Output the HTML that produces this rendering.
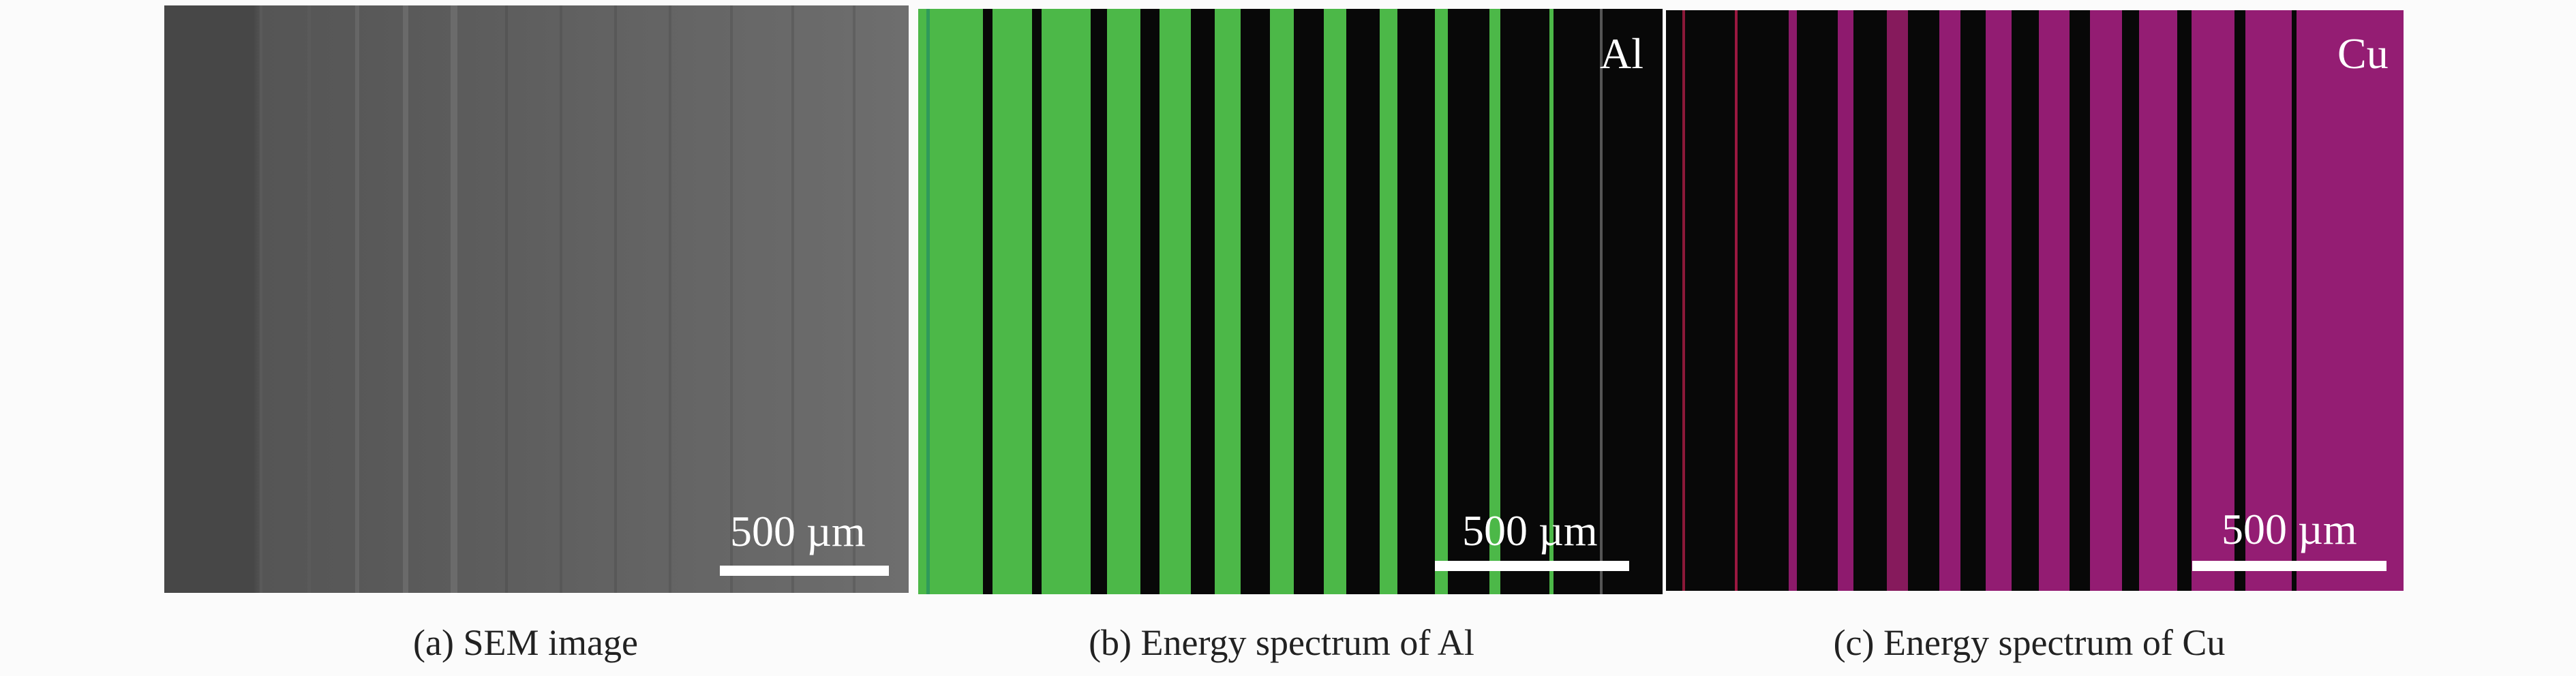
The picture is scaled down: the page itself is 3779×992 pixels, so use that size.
<!DOCTYPE html>
<html><head><meta charset="utf-8"><style>
body{margin:0;width:3779px;height:992px;background:#fbfbfb;position:relative;overflow:hidden;font-family:"Liberation Serif",serif}
.p{position:absolute}
.s{position:absolute;top:0;bottom:0}
.t{position:absolute;color:#fff;font-size:64px;line-height:1;white-space:nowrap}
.bar{position:absolute;background:#fff}
.cap{position:absolute;top:912px;font-size:54px;color:#222;white-space:nowrap;transform:translateX(-50%)}
</style></head><body>
<!-- panel a -->
<div class="p" style="left:241px;top:8px;width:1092px;height:862px;background:linear-gradient(90deg,#474747 0,#474747 12%,#555 13%,#5c5c5c 40%,#656565 70%,#6e6e6e 100%)">
<div class="s" style="left:140px;width:4px;background:#5a5a5a"></div>
<div class="s" style="left:210px;width:5px;background:#5a5a5a"></div>
<div class="s" style="left:280px;width:6px;background:#666"></div>
<div class="s" style="left:350px;width:8px;background:#6a6a6a"></div>
<div class="s" style="left:420px;width:10px;background:#6b6b6b"></div>
<div class="s" style="left:500px;width:4px;background:#555"></div>
<div class="s" style="left:580px;width:4px;background:#575757"></div>
<div class="s" style="left:660px;width:4px;background:#585858"></div>
<div class="s" style="left:740px;width:4px;background:#5a5a5a"></div>
<div class="s" style="left:830px;width:4px;background:#5c5c5c"></div>
<div class="s" style="left:920px;width:4px;background:#5e5e5e"></div>
<div class="s" style="left:1010px;width:4px;background:#606060"></div>
<div class="t" style="left:830px;top:740px">500 µm</div>
<div class="bar" style="left:815px;top:822px;width:248px;height:15px"></div>
</div>
<!-- panel b -->
<div class="p" style="left:1347px;top:13px;width:1092px;height:859px;background:#4cb848;overflow:hidden">
<div class="s" style="left:12px;width:5px;background:#2f9a5a"></div>
<div class="s" style="left:95px;width:14px;background:#080808"></div>
<div class="s" style="left:167px;width:14px;background:#080808"></div>
<div class="s" style="left:253px;width:24px;background:#080808"></div>
<div class="s" style="left:326px;width:28px;background:#080808"></div>
<div class="s" style="left:400px;width:35px;background:#080808"></div>
<div class="s" style="left:473px;width:43px;background:#080808"></div>
<div class="s" style="left:551px;width:44px;background:#080808"></div>
<div class="s" style="left:628px;width:49px;background:#080808"></div>
<div class="s" style="left:703px;width:55px;background:#080808"></div>
<div class="s" style="left:777px;width:61px;background:#080808"></div>
<div class="s" style="left:854px;width:72px;background:#080808"></div>
<div class="s" style="left:932px;width:160px;background:#080808"></div>
<div class="s" style="left:1000px;width:4px;background:#555"></div>
<div class="t" style="left:1000px;top:34px">Al</div>
<div class="t" style="left:798px;top:734px">500 µm</div>
<div class="bar" style="left:758px;top:810px;width:285px;height:15px"></div>
</div>
<!-- panel c -->
<div class="p" style="left:2444px;top:15px;width:1082px;height:852px;background:#080808;overflow:hidden">
<div class="s" style="left:24px;width:4px;background:#8a1838"></div>
<div class="s" style="left:101px;width:4px;background:#9a1840"></div>
<div class="s" style="left:180px;width:12px;background:#8c1a6a"></div>
<div class="s" style="left:252px;width:23px;background:#8e1a6e"></div>
<div class="s" style="left:324px;width:31px;background:#861a5c"></div>
<div class="s" style="left:401px;width:31px;background:#921c72"></div>
<div class="s" style="left:469px;width:38px;background:#921c72"></div>
<div class="s" style="left:547px;width:45px;background:#931c72"></div>
<div class="s" style="left:622px;width:47px;background:#931c72"></div>
<div class="s" style="left:694px;width:56px;background:#941d73"></div>
<div class="s" style="left:771px;width:63px;background:#941d73"></div>
<div class="s" style="left:850px;width:68px;background:#941d73"></div>
<div class="s" style="left:925px;width:157px;background:#941d73"></div>
<div class="t" style="left:985px;top:32px">Cu</div>
<div class="t" style="left:815px;top:730px">500 µm</div>
<div class="bar" style="left:772px;top:808px;width:285px;height:15px"></div>
</div>
<div class="cap" style="left:771px">(a) SEM image</div>
<div class="cap" style="left:1880px">(b) Energy spectrum of Al</div>
<div class="cap" style="left:2977px">(c) Energy spectrum of Cu</div>
</body></html>
